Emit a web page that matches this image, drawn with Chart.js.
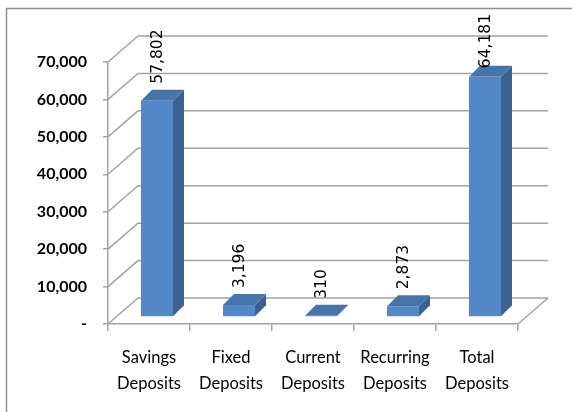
<!DOCTYPE html>
<html>
<head>
<meta charset="utf-8">
<script src="https://cdn.jsdelivr.net/npm/chart.js@4.4.0/dist/chart.umd.min.js"></script>
<style>
  html, body { margin: 0; padding: 0; background: #fff; }
  #wrap { width: 572px; height: 412px; }
</style>
</head>
<body>
<div id="wrap"><canvas id="deposits_chart" width="572" height="412"></canvas></div>
<script>
// chart data
const categories = [
    ['Savings', 'Deposits'],
    ['Fixed', 'Deposits'],
    ['Current', 'Deposits'],
    ['Recurring', 'Deposits'],
    ['Total', 'Deposits'],
];
const depositValues = [57802, 3196, 310, 2873, 64181];
const yTickValues = [0, 10000, 20000, 30000, 40000, 50000, 60000, 70000];

// look of the 3D box
const WALL_DX = 30, WALL_DY = -26;   // depth of floor / back wall
const BAR_OX = 8, BAR_OY = -7;       // bars sit a bit behind the front plane
const BAR_DX = 11, BAR_DY = -11;     // depth of each bar
const GRID_COLOR = '#a3a3a3';
const BAR_FRONT = '#5388c8';
const BAR_TOP = '#4674ab';
const BAR_SIDE = '#3c6190';

const fmt = (v) => v === 0 ? '-' : v.toLocaleString('en-US');

/**
 * Draws the back wall, floor and 3D bars
 */
const box3d = {
    id: 'box3d',
    beforeDatasetsDraw(chart) {
        const { ctx, chartArea, scales } = chart;
        const y = scales.y;
        ctx.save();
        ctx.strokeStyle = GRID_COLOR;
        ctx.lineWidth = 1.5;
        yTickValues.forEach((v) => {
            const py = y.getPixelForValue(v);
            ctx.beginPath();
            ctx.moveTo(chartArea.left, py);
            ctx.lineTo(chartArea.left + WALL_DX, py + WALL_DY);
            ctx.lineTo(chartArea.right + WALL_DX, py + WALL_DY);
            ctx.stroke();
        });
        // right edge of the floor
        const base = y.getPixelForValue(0);
        ctx.beginPath();
        ctx.moveTo(chartArea.right, base);
        ctx.lineTo(chartArea.right + WALL_DX, base + WALL_DY);
        ctx.stroke();
        ctx.restore();
    },
    afterDatasetsDraw(chart) {
        const { ctx } = chart;
        const meta = chart.getDatasetMeta(0);
        ctx.save();
        meta.data.forEach((bar, i) => {
            const L = bar.x - bar.width / 2 + BAR_OX;
            const R = bar.x + bar.width / 2 + BAR_OX;
            const T = bar.y + BAR_OY;
            const B = bar.base + BAR_OY;
            // side
            ctx.fillStyle = BAR_SIDE;
            ctx.beginPath();
            ctx.moveTo(R, T);
            ctx.lineTo(R + BAR_DX, T + BAR_DY);
            ctx.lineTo(R + BAR_DX, B + BAR_DY);
            ctx.lineTo(R, B);
            ctx.closePath();
            ctx.fill();
            // top
            ctx.fillStyle = BAR_TOP;
            ctx.beginPath();
            ctx.moveTo(L, T);
            ctx.lineTo(L + BAR_DX, T + BAR_DY);
            ctx.lineTo(R + BAR_DX, T + BAR_DY);
            ctx.lineTo(R, T);
            ctx.closePath();
            ctx.fill();
            // front
            ctx.fillStyle = BAR_FRONT;
            ctx.fillRect(L, T, R - L, B - T);

            // value label, rotated
            const label = fmt(depositValues[i]);
            ctx.font = '15.5px "DejaVu Sans"';
            ctx.fillStyle = '#000';
            const w = ctx.measureText(label).width;
            let start = T - 17;
            if (start - w < 14) start = 14 + w;
            ctx.save();
            ctx.translate((L + R) / 2 + 1, start);
            ctx.rotate(-Math.PI / 2);
            ctx.textAlign = 'left';
            ctx.textBaseline = 'middle';
            ctx.fillText(label, 0, 0);
            ctx.restore();
        });
        ctx.restore();
    },
    afterDraw(chart) {
        const { ctx } = chart;
        ctx.save();
        ctx.strokeStyle = '#8e8e8e';
        ctx.lineWidth = 1.5;
        ctx.beginPath();
        ctx.moveTo(6.5, 412);
        ctx.lineTo(6.5, 8.5);
        ctx.lineTo(572, 8.5);
        ctx.stroke();
        ctx.restore();
    },
};

new Chart(document.getElementById('deposits_chart'), {
    type: 'bar',
    data: {
        labels: categories,
        datasets: [{
            data: depositValues,
            backgroundColor: 'rgba(0,0,0,0)',
            borderWidth: 0,
            categoryPercentage: 1,
            barPercentage: 0.39,
        }],
    },
    options: {
        responsive: false,
        animation: false,
        events: [],
        layout: {
            padding: { left: 0, top: 62, right: 54, bottom: 0 },
        },
        plugins: {
            legend: { display: false },
            tooltip: { enabled: false },
        },
        scales: {
            x: {
                grid: {
                    drawOnChartArea: false,
                    drawTicks: true,
                    tickLength: 7,
                    color: GRID_COLOR,
                    lineWidth: 1.5,
                    offset: true,
                },
                border: { display: true, color: GRID_COLOR, width: 1.5 },
                ticks: {
                    color: '#000',
                    padding: 14,
                    maxRotation: 0,
                    autoSkip: false,
                    font: { family: 'Lato', size: 16.5, lineHeight: 1.57 },
                },
                afterFit(scale) { scale.height = 88; },
            },
            y: {
                min: 0,
                max: 70000,
                afterBuildTicks(scale) {
                    scale.ticks = yTickValues.map((v) => ({ value: v }));
                },
                grid: {
                    drawOnChartArea: false,
                    drawTicks: true,
                    tickLength: 5,
                    color: GRID_COLOR,
                    lineWidth: 1.5,
                },
                border: { display: true, color: GRID_COLOR, width: 1.5 },
                ticks: {
                    color: '#000',
                    padding: 16,
                    font: { family: 'Lato', size: 16, weight: 'bold' },
                    callback: (v) => fmt(v),
                },
                afterFit(scale) { scale.width = 108; },
            },
        },
    },
    plugins: [box3d],
});
</script>
</body>
</html>
